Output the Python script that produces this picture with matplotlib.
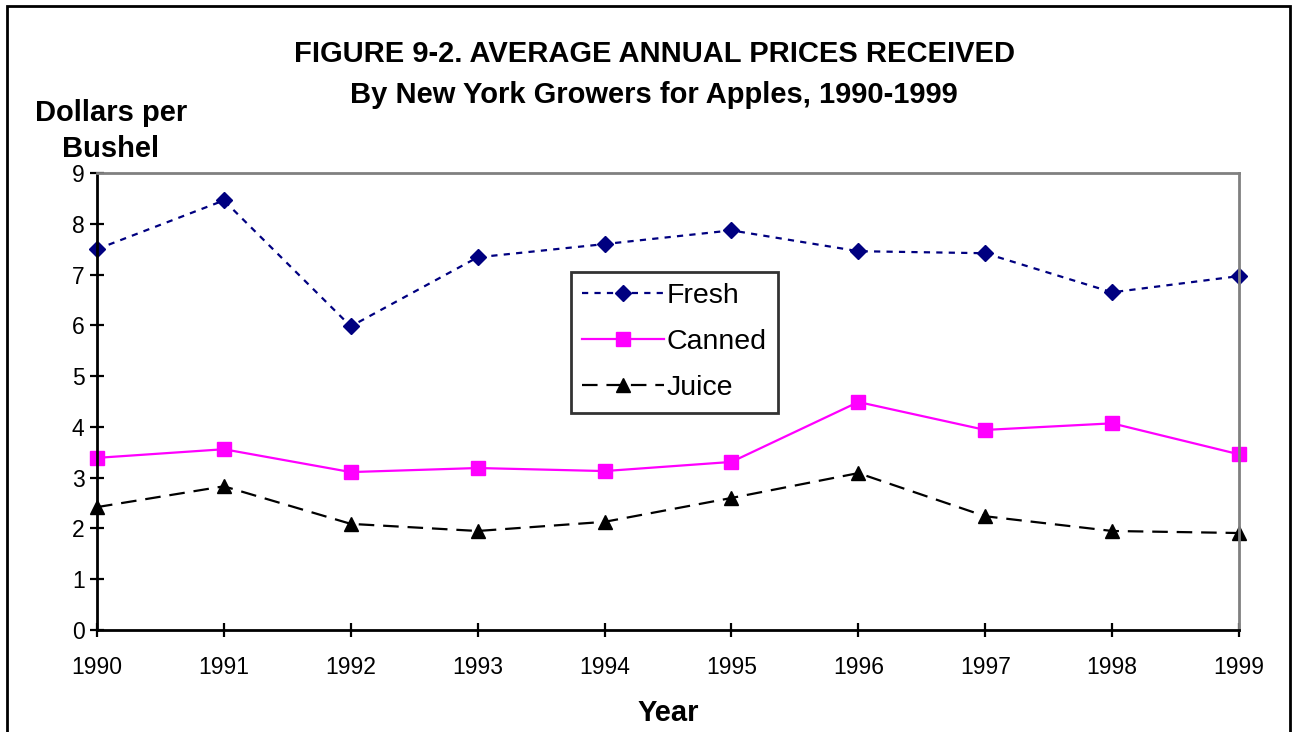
import matplotlib
matplotlib.use("Agg")
import matplotlib.pyplot as plt
from matplotlib.patches import Rectangle

years = [1990, 1991, 1992, 1993, 1994, 1995, 1996, 1997, 1998, 1999]
fresh = [7.50, 8.46, 5.98, 7.34, 7.60, 7.87, 7.46, 7.42, 6.65, 6.97]
canned = [3.39, 3.56, 3.11, 3.19, 3.13, 3.31, 4.49, 3.94, 4.07, 3.46]
juice = [2.42, 2.83, 2.09, 1.95, 2.13, 2.60, 3.09, 2.24, 1.95, 1.91]
yticks = list(range(0, 10))

plt.rcParams['font.family'] = ['Liberation Sans', 'DejaVu Sans']

fig = plt.figure(figsize=(12.93, 7.32), dpi=100)
ax = fig.add_axes([97/1293, 1-630/732, (1239-97)/1293, (630-173)/732])

ax.plot(years, fresh, color='#000080', linestyle=(0, (2.8, 2.8)), linewidth=1.6,
        marker='D', markersize=8.5, label='Fresh', clip_on=False)
ax.plot(years, canned, color='#FF00FF', linestyle='-', linewidth=1.6,
        marker='s', markersize=10, label='Canned', clip_on=False)
ax.plot(years, juice, color='black', linestyle=(0, (7, 4)), linewidth=1.6,
        marker='^', markersize=10, label='Juice', clip_on=False)

ax.set_xlim(1990, 1999)
ax.set_ylim(0, 9)
ax.set_xticks(years)
ax.set_xticklabels([str(y) for y in years])
ax.set_yticks(yticks)
ax.tick_params(axis='both', direction='inout', length=10, width=1.6, labelsize=16.5)
ax.tick_params(axis='x', pad=14)
ax.tick_params(axis='y', pad=4)
for s in ['left', 'bottom']:
    ax.spines[s].set_color('black')
    ax.spines[s].set_linewidth(2)
for s in ['top', 'right']:
    ax.spines[s].set_color('#808080')
    ax.spines[s].set_linewidth(2)

ax.set_xlabel('Year', fontsize=21, fontweight='bold', labelpad=14)

fig.text(654/1293, 1-74.5/732, 'FIGURE 9-2. AVERAGE ANNUAL PRICES RECEIVED\nBy New York Growers for Apples, 1990-1999',
         ha='center', va='center', fontsize=21, fontweight='bold', linespacing=1.55)
fig.text(111/1293, 1-131/732, 'Dollars per\nBushel', ha='center', va='center',
         fontsize=21, fontweight='bold', linespacing=1.35)

leg = ax.legend(loc='upper left', bbox_to_anchor=((571-97)/1142, (630-272)/457),
                fontsize=20.5, frameon=True, fancybox=False, handlelength=2.85,
                handletextpad=0.1, borderpad=0.4, labelspacing=0.7, borderaxespad=0)
leg.get_frame().set_edgecolor('black')
leg.get_frame().set_linewidth(2)

fig.patches.append(Rectangle((7/1293, -0.05), (1290-7)/1293, 1.05 - 6/732,
                             transform=fig.transFigure, fill=False,
                             edgecolor='black', linewidth=2))

fig.savefig('out.png', dpi=100)
